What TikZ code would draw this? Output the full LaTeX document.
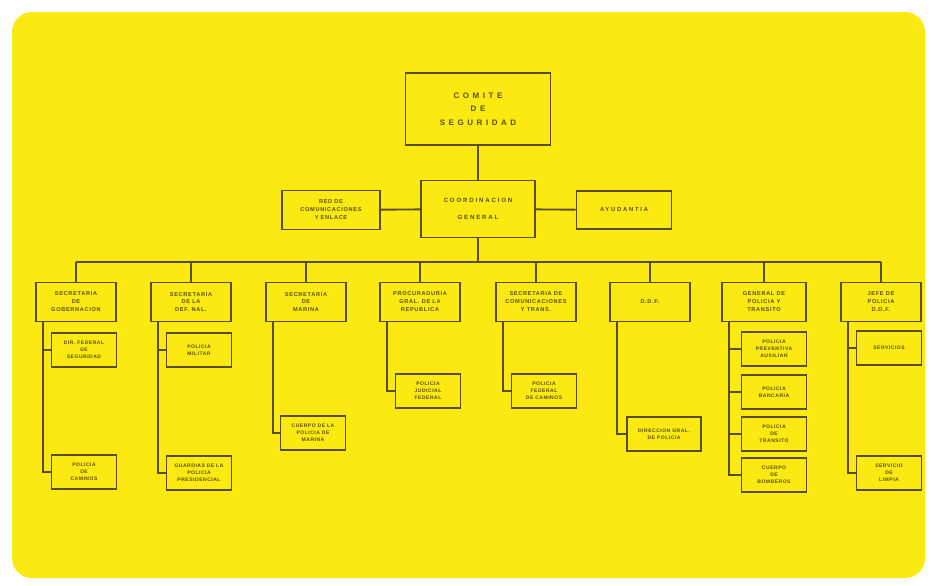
\documentclass[tikz,border=0pt]{standalone}
\usepackage{fontspec}
\setmainfont{Liberation Sans}
\usetikzlibrary{positioning}
\definecolor{cardyellow}{RGB}{251,234,18}
\definecolor{inkbrown}{RGB}{92,76,14}

\begin{document}
\begin{tikzpicture}[x=0.03cm,y=-0.03cm,
  box/.style={draw=inkbrown, line width=1.6pt, align=center, text=inkbrown,
    font=\fontsize{4.8}{6.8}\selectfont\bfseries\addfontfeature{LetterSpace=12}, inner sep=1pt},
  unit/.style={box, minimum width=2.4cm, minimum height=1.17cm},
  sub/.style={box, minimum width=1.95cm, minimum height=1.02cm,
    font=\fontsize{4.3}{6}\selectfont\bfseries\addfontfeature{LetterSpace=10}},
  wire/.style={draw=inkbrown, line width=1.6pt}]
  \useasboundingbox (0,0) rectangle (931,585);
  \fill[white] (0,0) rectangle (931,585);
  \fill[cardyellow, rounded corners=0.6cm] (12,12) rectangle (925,578);

  % top
  \node[box, minimum width=4.35cm, minimum height=2.16cm,
    font=\fontsize{6.8}{11.5}\selectfont\bfseries\addfontfeature{LetterSpace=45}]
    (comite) at (478,109) {COMITE\\DE\\SEGURIDAD};
  \node[box, minimum width=3.42cm, minimum height=1.71cm,
    font=\fontsize{5.2}{14}\selectfont\bfseries\addfontfeature{LetterSpace=30}]
    (coord) at (478,209) {COORDINACION\\GENERAL};
  \node[box, minimum width=2.94cm, minimum height=1.17cm] (red) at (331,210)
    {RED DE\\COMUNICACIONES\\Y ENLACE};
  \node[box, minimum width=2.85cm, minimum height=1.14cm,
    font=\fontsize{5}{6}\selectfont\bfseries\addfontfeature{LetterSpace=30}]
    (ayud) at (624,210) {AYUDANTIA};
  \coordinate (bus) at (478,262);
  \draw[wire] (comite) -- (coord);
  \draw[wire] (red) -- (coord);
  \draw[wire] (ayud) -- (coord);
  \draw[wire] (coord) -- (bus);

  % dependencias
  \node[unit] (u1) at (76,302) {SECRETARIA\\DE\\GOBERNACION};
  \node[unit] (u2) at (191,302) {SECRETARIA\\DE LA\\DEF. NAL.};
  \node[unit] (u3) at (306,302) {SECRETARIA\\DE\\MARINA};
  \node[unit] (u4) at (420,302) {PROCURADURIA\\GRAL. DE LA\\REPUBLICA};
  \node[unit] (u5) at (536,302) {SECRETARIA DE\\COMUNICACIONES\\Y TRANS.};
  \node[unit] (u6) at (650,302) {D.D.F.};
  \node[unit, minimum width=2.52cm] (u7) at (764,302) {GENERAL DE\\POLICIA Y\\TRANSITO};
  \node[unit] (u8) at (881,302) {JEFE DE\\POLICIA\\D.D.F.};
  \draw[wire] (u1.north |- bus) -- (u8.north |- bus);
  \foreach \u in {u1,u2,u3,u4,u5,u6,u7,u8}
    \draw[wire] (\u.north) -- (\u.north |- bus);

  % corporaciones
  \node[sub] (s1a) at (84,350) {DIR. FEDERAL\\DE\\SEGURIDAD};
  \node[sub] (s1b) at (84,472) {POLICIA\\DE\\CAMINOS};
  \node[sub] (s2a) at (199,350) {POLICIA\\MILITAR};
  \node[sub] (s2b) at (199,473) {GUARDIAS DE LA\\POLICIA\\PRESIDENCIAL};
  \node[sub] (s3a) at (313,433) {CUERPO DE LA\\POLICIA DE\\MARINA};
  \node[sub] (s4a) at (428,391) {POLICIA\\JUDICIAL\\FEDERAL};
  \node[sub] (s5a) at (544,391) {POLICIA\\FEDERAL\\DE CAMINOS};
  \node[sub, minimum width=2.22cm] (s6a) at (664,434) {DIRECCION GRAL.\\DE POLICIA};
  \node[sub] (s7a) at (774,349) {POLICIA\\PREVENTIVA\\AUXILIAR};
  \node[sub] (s7b) at (774,392) {POLICIA\\BANCARIA};
  \node[sub] (s7c) at (774,434) {POLICIA\\DE\\TRANSITO};
  \node[sub] (s7d) at (774,475) {CUERPO\\DE\\BOMBEROS};
  \node[sub] (s8a) at (889,348) {SERVICIOS};
  \node[sub] (s8b) at (889,473) {SERVICIO\\DE\\LIMPIA};

  \foreach \u/\s in {u1/s1a,u1/s1b,u2/s2a,u2/s2b,u3/s3a,u4/s4a,u5/s5a,
                     u6/s6a,u7/s7a,u7/s7b,u7/s7c,u7/s7d,u8/s8a,u8/s8b}
    \draw[wire] ([xshift=0.24cm]\u.south west) |- (\s.west);
\end{tikzpicture}
\end{document}
